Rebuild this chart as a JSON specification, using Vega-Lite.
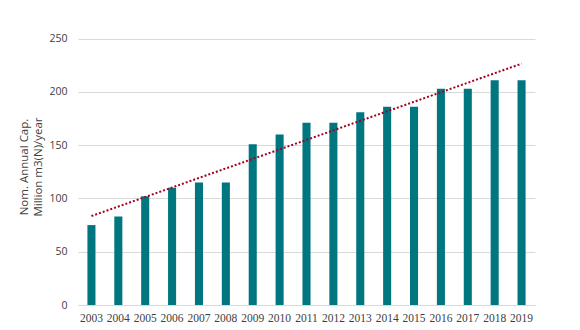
{
  "$schema": "https://vega.github.io/schema/vega-lite/v6.json",
  "width": 457,
  "height": 277,
  "autosize": {"type": "none"},
  "padding": {"left": 78, "top": 28, "right": 45, "bottom": 25},
  "background": "white",
  "config": {
    "view": {"stroke": null},
    "font": "Liberation Sans Narrow"
  },
  "datasets": {
    "bars": [
      {"year": "2003", "capacity": 75},
      {"year": "2004", "capacity": 83},
      {"year": "2005", "capacity": 102},
      {"year": "2006", "capacity": 110},
      {"year": "2007", "capacity": 115},
      {"year": "2008", "capacity": 115},
      {"year": "2009", "capacity": 151},
      {"year": "2010", "capacity": 160},
      {"year": "2011", "capacity": 171},
      {"year": "2012", "capacity": 171},
      {"year": "2013", "capacity": 181},
      {"year": "2014", "capacity": 186},
      {"year": "2015", "capacity": 186},
      {"year": "2016", "capacity": 203},
      {"year": "2017", "capacity": 203},
      {"year": "2018", "capacity": 211},
      {"year": "2019", "capacity": 211}
    ],
    "trend": [
      {"year": "2003", "capacity": 83.5},
      {"year": "2019", "capacity": 226.5}
    ]
  },
  "layer": [
    {
      "data": {"name": "bars"},
      "mark": {"type": "bar", "color": "#007780"},
      "encoding": {
        "x": {
          "field": "year",
          "type": "ordinal",
          "scale": {"paddingInner": 0.7, "paddingOuter": 0.35},
          "axis": {
            "title": null,
            "labelAngle": 0,
            "labelFontSize": 11.5,
            "labelColor": "#404040",
            "labelPadding": 7,
            "ticks": false,
            "domainColor": "#d9d9d9",
            "domainWidth": 1
          }
        },
        "y": {
          "field": "capacity",
          "type": "quantitative",
          "scale": {"domain": [0, 250]},
          "axis": {
            "values": [0, 50, 100, 150, 200, 250],
            "title": ["Nom. Annual Cap.", "Million m3(N)/year"],
            "titleFont": "Open Sans",
            "titleFontWeight": "normal",
            "titleFontSize": 11.5,
            "titleColor": "#404040",
            "titleLineHeight": 14,
            "titlePadding": 5,
            "labelFont": "Open Sans",
            "labelFontSize": 10.5,
            "labelColor": "#404040",
            "labelPadding": 11,
            "ticks": false,
            "domain": false,
            "gridColor": "#d9d9d9",
            "gridWidth": 1
          }
        }
      }
    },
    {
      "data": {"name": "trend"},
      "mark": {"type": "line", "color": "#a50021", "strokeWidth": 2, "strokeDash": [2, 2]},
      "encoding": {
        "x": {"field": "year", "type": "ordinal"},
        "y": {"field": "capacity", "type": "quantitative"}
      }
    }
  ]
}
